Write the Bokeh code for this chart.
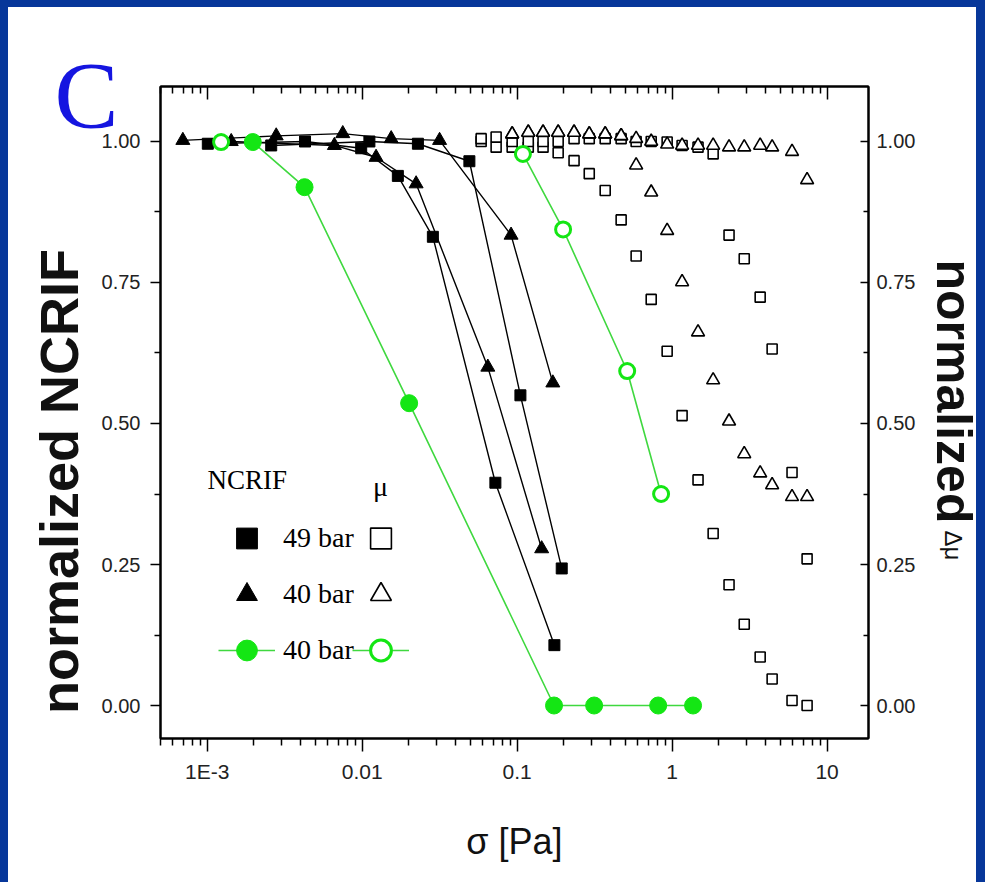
import math
from bokeh.plotting import figure
from bokeh.models import (Range1d, LinearAxis, LogAxis, FixedTicker, PrintfTickFormatter,
                          CustomJSTickFormatter, Label, Legend, LegendItem)
from bokeh.embed import file_html
from bokeh.resources import INLINE

# ---------------- data ----------------
# NCRIF, 49 bar (two runs, filled squares)
sig_sq_a = [0.00101, 0.00428, 0.00986, 0.0170, 0.0286, 0.0724, 0.174]
ncrif_sq_a = [0.996, 1.000, 0.988, 0.939, 0.831, 0.395, 0.107]
sig_sq_b = [0.00259, 0.01114, 0.0229, 0.0492, 0.105, 0.194]
ncrif_sq_b = [0.993, 1.000, 0.996, 0.965, 0.550, 0.243]

# NCRIF, 40 bar (two runs, filled triangles)
sig_tri_a = [0.00143, 0.00662, 0.0123, 0.0223, 0.0647, 0.144]
ncrif_tri_a = [1.000, 0.993, 0.972, 0.925, 0.600, 0.278]
sig_tri_b = [0.000697, 0.00279, 0.0075, 0.0154, 0.0316, 0.0914, 0.170]
ncrif_tri_b = [1.002, 1.010, 1.014, 1.005, 1.002, 0.834, 0.572]

# NCRIF, 40 bar (green filled circles)
sig_g_fill = [0.00197, 0.00425, 0.0201, 0.173, 0.314, 0.813, 1.365]
ncrif_g_fill = [0.999, 0.919, 0.536, 0.0, 0.0, 0.0, 0.0]

# mu, 40 bar (green open circles)
sig_g_open = [0.00123, 0.109, 0.198, 0.513, 0.849]
mu_g_open = [0.999, 0.978, 0.844, 0.593, 0.375]

# mu (open squares / open triangles), common stress grid
sig_mu = [0.0586, 0.0732, 0.0929, 0.118, 0.147, 0.184, 0.233, 0.292, 0.370, 0.469, 0.586,
          0.733, 0.929, 1.16, 1.47, 1.84, 2.33, 2.92, 3.70, 4.42, 5.94, 7.43]
mu_sq_a = [1.000, 0.990, 0.990, 0.990, 0.990, 0.980, 0.966, 0.943, 0.913, 0.861, 0.797,
           0.720, 0.628, 0.514, 0.400, 0.305, 0.214, 0.144, 0.086, 0.047, 0.009, 0.000]
mu_sq_b = [1.005, 1.008, 1.000, 1.000, 1.000, 1.000, 1.005, 1.005, 1.005, 1.005, 1.000,
           1.000, 0.999, 0.993, 0.990, 0.978, 0.834, 0.792, 0.724, 0.632, 0.413, 0.260]
sig_mu_tri = sig_mu[2:]
mu_tri_a = [1.013, 1.016, 1.016, 1.016, 1.016, 1.013, 1.013, 1.010, 0.958, 0.910,
            0.842, 0.751, 0.662, 0.577, 0.504, 0.446, 0.412, 0.391, 0.370, 0.370]
mu_tri_b = [1.013, 1.016, 1.016, 1.016, 1.016, 1.013, 1.013, 1.010, 1.005, 1.000,
            0.995, 0.993, 0.993, 0.993, 0.990, 0.990, 0.993, 0.990, 0.982, 0.932]

# axes
x_tick_vals = [0.001, 0.01, 0.1, 1, 10]
x_tick_labels = ["1E-3", "0.01", "0.1", "1", "10"]
y_tick_vals = [0.0, 0.25, 0.5, 0.75, 1.0]
y_minor_vals = [0.125, 0.375, 0.625, 0.875]
X_MIN, X_MAX = 5.0e-4, 18.5
Y_MIN, Y_MAX = -0.0585, 1.0975

x_minor_vals = []
for k in range(-4, 2):
    for m in range(2, 10):
        v = m * 10.0 ** k
        if X_MIN <= v <= X_MAX:
            x_minor_vals.append(v)

W, H = 985, 882
GREEN = "#14e614"
GREEN_LINE = "#3fd83f"
BLUE_FRAME = "#07379a"
SANS = "Liberation Sans"
SERIF = "Liberation Serif"

p = figure(width=W, height=H, x_axis_type="log",
           x_range=Range1d(X_MIN, X_MAX), y_range=Range1d(Y_MIN, Y_MAX),
           output_backend="svg", toolbar_location=None,
           min_border_left=160, min_border_right=117, min_border_top=86, min_border_bottom=144)
p.xgrid.visible = False
p.ygrid.visible = False
p.outline_line_color = "black"
p.outline_line_width = 2
p.background_fill_color = "white"
p.border_fill_alpha = 0
p.styles = {"background-color": "white",
            "box-shadow": f"inset 8px 7px 0 0 {BLUE_FRAME}, inset -9px 0 0 0 {BLUE_FRAME}"}

xticker = FixedTicker(ticks=x_tick_vals, minor_ticks=x_minor_vals)
yticker = FixedTicker(ticks=y_tick_vals, minor_ticks=y_minor_vals)
xfmt = CustomJSTickFormatter(args=dict(vals=x_tick_vals, labs=x_tick_labels), code="""
for (let i = 0; i < vals.length; i++) {
  if (Math.abs(Math.log10(tick) - Math.log10(vals[i])) < 1e-6) { return labs[i]; }
}
return "";
""")
blankfmt = CustomJSTickFormatter(code="return '';")


def style_axis(ax):
    ax.axis_line_width = 2
    ax.axis_line_color = "black"
    ax.major_tick_line_width = 1.5
    ax.minor_tick_line_width = 1.5
    ax.major_tick_line_color = "black"
    ax.minor_tick_line_color = "black"
    ax.major_label_text_font = SANS
    ax.major_label_text_font_size = "20px"
    ax.major_label_text_color = "#222222"


xb = p.xaxis[0]
xb.ticker = xticker
xb.formatter = xfmt
style_axis(xb)
xb.major_label_text_font_size = "21px"
xb.major_tick_out, xb.major_tick_in = 13, 0
xb.minor_tick_out, xb.minor_tick_in = 7, 0
xb.major_label_standoff = 8
xb.axis_label = "σ [Pa]"
xb.axis_label_text_font = SANS
xb.axis_label_text_font_size = "36px"
xb.axis_label_text_font_style = "normal"
xb.axis_label_text_color = "#111111"
xb.axis_label_standoff = 35

yl = p.yaxis[0]
yl.ticker = yticker
yl.formatter = PrintfTickFormatter(format="%.2f")
style_axis(yl)
yl.major_tick_out, yl.major_tick_in = 10, 0
yl.minor_tick_out, yl.minor_tick_in = 6, 0
yl.major_label_standoff = 10

xt = LogAxis(ticker=xticker, formatter=blankfmt)
style_axis(xt)
xt.major_tick_in, xt.major_tick_out = 13, 0
xt.minor_tick_in, xt.minor_tick_out = 7, 0
p.add_layout(xt, "above")

yr = LinearAxis(ticker=yticker, formatter=PrintfTickFormatter(format="%.2f"))
style_axis(yr)
yr.major_tick_in, yr.major_tick_out = 8, 0
yr.minor_tick_in, yr.minor_tick_out = 5, 0
yr.major_label_standoff = 8
p.add_layout(yr, "right")

# ---------------- lines ----------------
r_gline = p.line(sig_g_fill, ncrif_g_fill, line_color=GREEN_LINE, line_width=1.6)
r_goline = p.line(sig_g_open[1:], mu_g_open[1:], line_color=GREEN_LINE, line_width=1.6)
for xs, ys in [(sig_sq_a, ncrif_sq_a), (sig_sq_b, ncrif_sq_b),
               (sig_tri_a, ncrif_tri_a), (sig_tri_b, ncrif_tri_b)]:
    p.line(xs, ys, line_color="black", line_width=1.4)

# ---------------- markers ----------------
r_sq = p.scatter(sig_sq_a, ncrif_sq_a, marker="square", size=11, color="black")
p.scatter(sig_sq_b, ncrif_sq_b, marker="square", size=11, color="black")
r_tri = p.scatter(sig_tri_a, ncrif_tri_a, marker="triangle", size=14, color="black")
p.scatter(sig_tri_b, ncrif_tri_b, marker="triangle", size=14, color="black")

r_osq = p.scatter(sig_mu, mu_sq_a, marker="square", size=10, line_color="black",
                  line_width=1.6, fill_color="white")
p.scatter(sig_mu, mu_sq_b, marker="square", size=10, line_color="black",
          line_width=1.6, fill_color="white")
r_otri = p.scatter(sig_mu_tri, mu_tri_a, marker="triangle", size=13, line_color="black",
                   line_width=1.6, fill_color="white")
p.scatter(sig_mu_tri, mu_tri_b, marker="triangle", size=13, line_color="black",
          line_width=1.6, fill_color="white")

r_gfill = p.scatter(sig_g_fill, ncrif_g_fill, marker="circle", size=17, line_color=GREEN,
                    fill_color=GREEN)
r_gopen = p.scatter(sig_g_open, mu_g_open, marker="circle", size=15, line_color=GREEN,
                    line_width=3, fill_color="white")


# ---------------- legends ----------------
def make_legend(items, loc, label_width=20, standoff=8):
    return Legend(items=items, location=loc, glyph_width=57, glyph_height=52,
                  label_standoff=standoff, label_width=label_width, spacing=4, padding=8,
                  margin=0, background_fill_alpha=0, border_line_alpha=0,
                  label_text_font=SERIF, label_text_font_size="28px", label_text_color="black")


legA = make_legend([LegendItem(label="49 bar", renderers=[r_sq]),
                    LegendItem(label="40 bar", renderers=[r_tri]),
                    LegendItem(label="40 bar", renderers=[r_gline, r_gfill])], (50, 54))
legB = make_legend([LegendItem(label=" ", renderers=[r_osq]),
                    LegendItem(label=" ", renderers=[r_otri]),
                    LegendItem(label=" ", renderers=[r_goline, r_gopen])], (184, 54),
                   label_width=0, standoff=0)
p.add_layout(legA)
p.add_layout(legB)

p.add_layout(Label(x=47, y=259, x_units="screen", y_units="screen", text="NCRIF",
                   text_font=SERIF, text_font_size="27px", text_align="left",
                   text_baseline="middle", text_color="black"))
p.add_layout(Label(x=220, y=252, x_units="screen", y_units="screen", text="μ",
                   text_font=SERIF, text_font_size="28px", text_align="center",
                   text_baseline="middle", text_color="black"))

# ---------------- overlay (separate root) for the texts outside the plot frame ----------------
ov = figure(width=W, height=H, x_range=Range1d(0, W), y_range=Range1d(0, H),
            output_backend="svg", toolbar_location=None, title=None,
            x_axis_location=None, y_axis_location=None,
            min_border_left=0, min_border_right=0, min_border_top=0, min_border_bottom=0)
ov.grid.visible = False
ov.outline_line_color = None
ov.background_fill_alpha = 0
ov.border_fill_alpha = 0
ov.styles = {"position": "absolute", "left": "0px", "top": "0px", "pointer-events": "none"}

ov.add_layout(Label(x=54, y=H - 95, x_units="screen", y_units="screen", text="C",
                    text_font=SERIF, text_font_size="96px", text_align="left",
                    text_baseline="alphabetic", text_color="#1515e0"))
ov.add_layout(Label(x=58, y=H - 481, x_units="screen", y_units="screen",
                    text="normalized NCRIF", text_font=SANS, text_font_size="54px",
                    text_font_style="bold", text_align="center", text_baseline="middle",
                    angle=math.pi / 2, text_color="#111111"))
ov.add_layout(Label(x=953, y=H - 391, x_units="screen", y_units="screen",
                    text="normalized", text_font=SANS, text_font_size="50px",
                    text_font_style="bold", text_align="center", text_baseline="middle",
                    angle=-math.pi / 2, text_color="#111111"))
ov.add_layout(Label(x=953, y=H - 545, x_units="screen", y_units="screen", text="Δμ",
                    text_font=SANS, text_font_size="24px", text_align="center",
                    text_baseline="middle", angle=-math.pi / 2, text_color="#111111"))

open("out.html", "w").write(file_html([p, ov], INLINE))
